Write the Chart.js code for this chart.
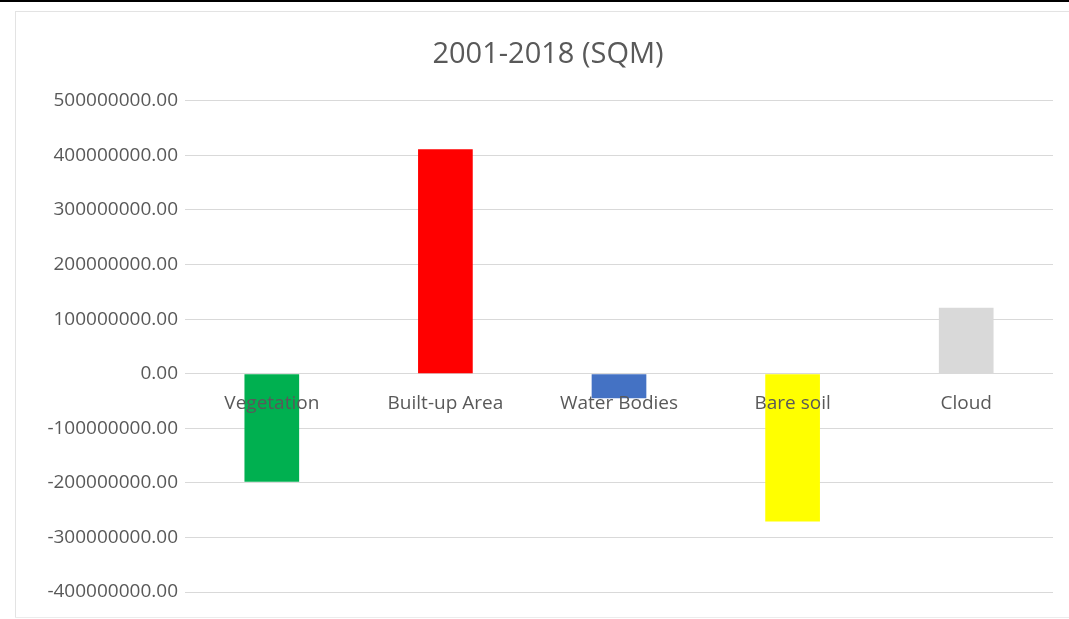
<!DOCTYPE html>
<html>
<head>
<meta charset="utf-8">
<script src="https://cdn.jsdelivr.net/npm/chart.js@4"></script>
<style>
  html, body { margin: 0; padding: 0; background: #fff; }
  #wrap { position: relative; width: 1069px; height: 619px; }
  canvas { position: absolute; left: 0; top: 0; }
  .topbar { position: absolute; left: 0; top: 0; width: 1069px; height: 2px; background: #000; }
  .frameT { position: absolute; left: 15px; top: 11px; width: 1054px; height: 1px; background: #e3e3e3; }
  .frameL { position: absolute; left: 15px; top: 11px; width: 1px; height: 607px; background: #e3e3e3; }
  .frameB { position: absolute; left: 15px; top: 617px; width: 1054px; height: 1px; background: #ececec; }
</style>
</head>
<body>
<div id="wrap">
  <canvas id="c" width="1069" height="619"></canvas>
  <div class="topbar"></div>
  <div class="frameT"></div>
  <div class="frameL"></div>
  <div class="frameB"></div>
</div>
<script>
const categories = ["Vegetation", "Built-up Area", "Water Bodies", "Bare soil", "Cloud"];
const values = [-198000000, 411000000, -45000000, -271000000, 121000000];
const barColors = ["#00b050", "#ff0000", "#4472c4", "#ffff00", "#d9d9d9"];
const titleText = "2001-2018 (SQM)";
const yMin = -400000000, yMax = 500000000, yStep = 100000000;

const fontFamily = "'Open Sans', 'Noto Sans', sans-serif";
const textColor = "#595959";
const labelFontSize = 19;

// Draw category labels on top of the bars, next to the zero axis (Excel style)
const labelsOnTop = {
  id: 'labelsOnTop',
  afterDatasetsDraw(chart) {
    const xs = chart.scales.x, ys = chart.scales.y;
    const ctx = chart.ctx;
    const y0 = ys.getPixelForValue(0);
    ctx.save();
    ctx.fillStyle = textColor;
    ctx.font = labelFontSize + "px " + fontFamily;
    ctx.textAlign = 'center';
    ctx.textBaseline = 'middle';
    chart.data.labels.forEach((lab, i) => {
      ctx.fillText(lab, xs.getPixelForValue(i), y0 + 30);
    });
    ctx.restore();
  }
};

new Chart(document.getElementById('c'), {
  type: 'bar',
  data: {
    labels: categories,
    datasets: [{
      data: values,
      backgroundColor: barColors,
      borderWidth: 0,
      barPercentage: 0.63,
      categoryPercentage: 0.5
    }]
  },
  plugins: [labelsOnTop],
  options: {
    responsive: false,
    animation: false,
    devicePixelRatio: 1,
    layout: { padding: { left: 43, right: 16, top: 0, bottom: 27 } },
    plugins: {
      legend: { display: false },
      tooltip: { enabled: false },
      title: {
        display: true,
        text: titleText,
        color: textColor,
        font: { family: fontFamily, size: 29, weight: 'normal' },
        padding: { top: 37, bottom: 29 }
      }
    },
    scales: {
      x: {
        position: { y: 0 },
        grid: { display: false, drawTicks: false },
        border: { display: false },
        ticks: { display: false }
      },
      y: {
        min: yMin,
        max: yMax,
        afterFit: (s) => { s.width = 142; },
        grid: { color: '#d9d9d9', lineWidth: 1, drawTicks: false },
        border: { display: false },
        ticks: {
          stepSize: yStep,
          padding: 7,
          color: textColor,
          font: { family: fontFamily, size: labelFontSize },
          callback: (v) => Number(v).toFixed(2)
        }
      }
    }
  }
});
</script>
</body>
</html>
